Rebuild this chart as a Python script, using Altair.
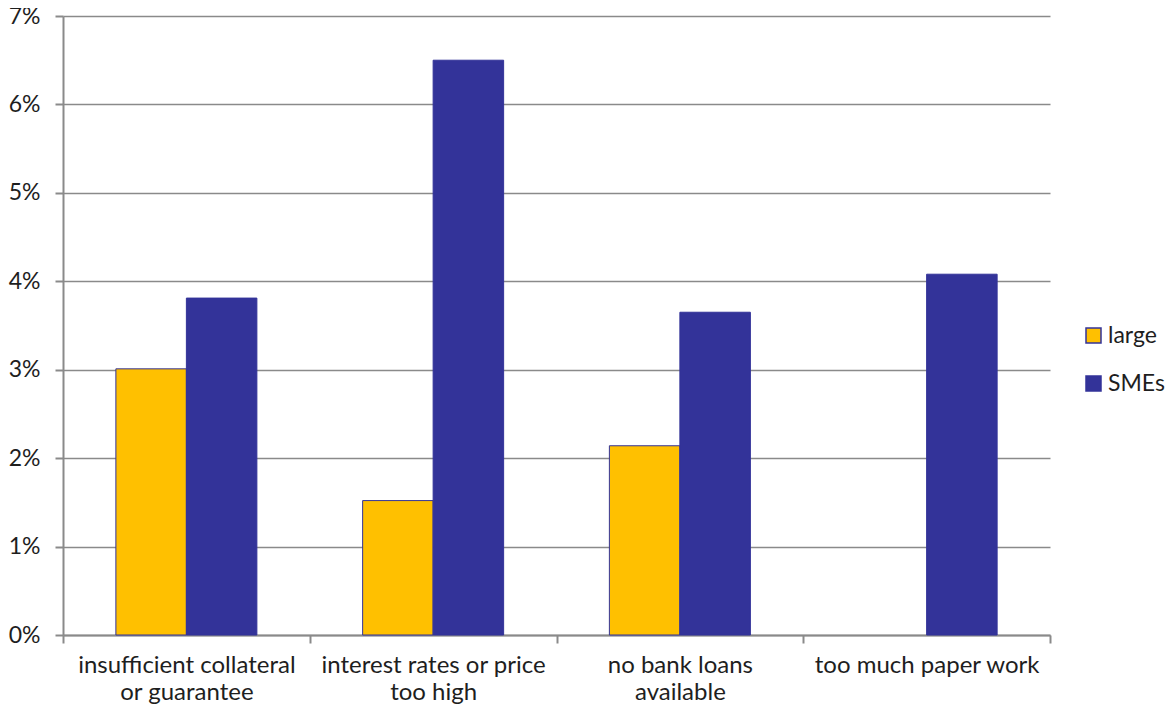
import altair as alt
import pandas as pd

categories = [
    "insufficient collateral|or guarantee",
    "interest rates or price|too high",
    "no bank loans|available",
    "too much paper work",
]
series = ["large", "SMEs"]
large_values = [3.01, 1.52, 2.14, 0.0]
sme_values = [3.81, 6.50, 3.65, 4.08]
y_ticks = [0, 1, 2, 3, 4, 5, 6, 7]
colors = ["#FFC000", "#333399"]

rows = []
for c, l, s in zip(categories, large_values, sme_values):
    rows.append({"category": c, "series": "large", "value": l})
    rows.append({"category": c, "series": "SMEs", "value": s})
df = pd.DataFrame(rows)

FONT = "Lato"
TXT = "#1e1e1e"
GRAY = "#8a8a8a"

chart = (
    alt.Chart(df)
    .transform_filter("datum.value > 0")
    .mark_bar(stroke="#333399", strokeWidth=1)
    .encode(
        x=alt.X(
            "category:N",
            sort=categories,
            scale=alt.Scale(domain=categories, paddingInner=0, paddingOuter=0),
            axis=alt.Axis(
                title=None,
                labelAngle=0,
                labelExpr="split(datum.label, '|')",
                labelLimit=0,
                tickBand="extent",
                tickSize=8,
                tickColor=GRAY,
                tickWidth=2,
                domainColor=GRAY,
                domainWidth=2,
                labelFont=FONT,
                labelFontSize=24,
                labelColor=TXT,
                labelLineHeight=27,
                labelPadding=10,
                grid=False,
            ),
        ),
        xOffset=alt.XOffset(
            "series:N",
            sort=series,
            scale=alt.Scale(domain=series, paddingInner=0, paddingOuter=0.75),
        ),
        y=alt.Y(
            "value:Q",
            scale=alt.Scale(domain=[0, 7], nice=False),
            axis=alt.Axis(
                title=None,
                values=y_ticks,
                labelExpr="datum.value + '%'",
                tickSize=8,
                tickColor=GRAY,
                tickWidth=2,
                domainColor=GRAY,
                domainWidth=2,
                gridColor=GRAY,
                gridWidth=1.5,
                labelFont=FONT,
                labelFontSize=23,
                labelColor=TXT,
                labelPadding=15,
            ),
        ),
        color=alt.Color(
            "series:N",
            scale=alt.Scale(domain=series, range=colors),
            legend=alt.Legend(
                title=None,
                orient="none",
                legendX=1019,
                legendY=308,
                symbolType="square",
                symbolSize=225,
                symbolStrokeColor="#333399",
                symbolStrokeWidth=1.5,
                labelFont=FONT,
                labelFontSize=23,
                labelColor=TXT,
                labelOffset=3,
                labelLimit=0,
                rowPadding=24,
            ),
        ),
    )
    .properties(
        width=987,
        height=619,
        autosize="none",
        padding={"left": 55, "top": 8, "right": 116, "bottom": 69},
    )
    .configure_view(stroke=None)
)

chart.save("out.html", embed_options={"renderer": "svg", "actions": False})
